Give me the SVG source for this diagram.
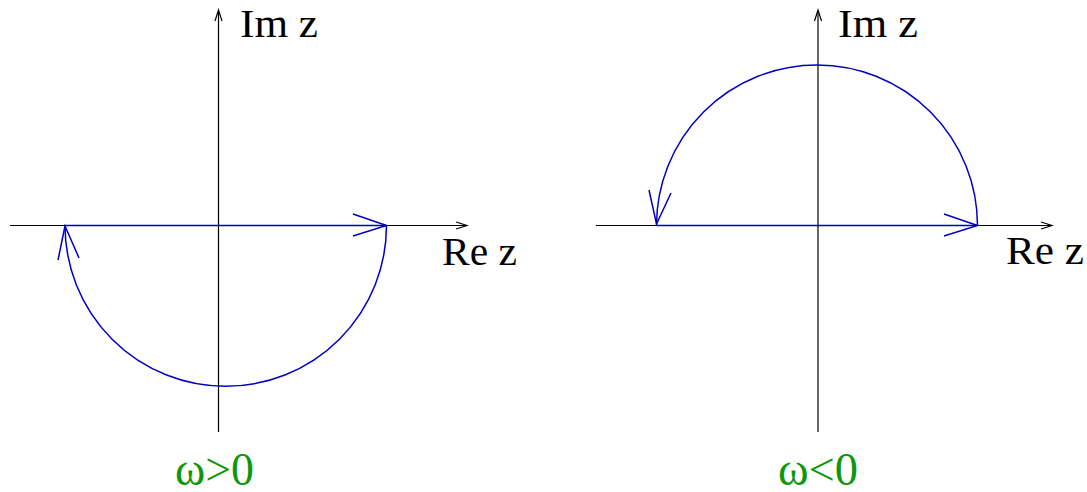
<svg xmlns="http://www.w3.org/2000/svg" width="1087" height="492" viewBox="0 0 1087 492">
<style>
.axis{stroke:#000;stroke-width:1.2;fill:none}
.path{stroke:#0000c0;stroke-width:1.5;fill:none}
.lbl{font-family:"Liberation Serif","DejaVu Serif",serif;font-size:41px;fill:#000}
.om{font-family:"Liberation Serif","DejaVu Serif",serif;font-size:46px;fill:#0e960e}
</style>
<rect width="1087" height="492" fill="#fff"/>
<g id="connectors">
<g id="left-axes">
<line class="axis" x1="10" y1="225.5" x2="466" y2="225.5"/>
<polyline class="axis" points="456,222 467,225.5 456,229"/>
<line class="axis" x1="218.5" y1="432" x2="218.5" y2="11"/>
<polyline class="axis" points="215,21 218.5,10 222,21"/>
</g>
<g id="left-contour">
<line class="path" x1="65" y1="225.5" x2="386" y2="225.5"/>
<polyline class="path" points="353,214 386.5,225.5 353,236"/>
<path class="path" d="M386.5,225.5 A160.75,160.75 0 1 1 65,225.5"/>
<polyline class="path" points="58,260 65,226 79,258"/>
</g>
<g id="right-axes">
<line class="axis" x1="596" y1="225.5" x2="1051" y2="225.5"/>
<polyline class="axis" points="1041,222 1052,225.5 1041,229"/>
<line class="axis" x1="818" y1="432" x2="818" y2="11"/>
<polyline class="axis" points="814.5,21 818,10 821.5,21"/>
</g>
<g id="right-contour">
<line class="path" x1="656.5" y1="225.5" x2="977" y2="225.5"/>
<polyline class="path" points="944,214 977.5,225.5 944,236"/>
<path class="path" d="M977.5,225.5 A160.5,160.5 0 1 0 656.5,225.5"/>
<polyline class="path" points="649,190 656.5,224 671,193"/>
</g>
</g>
<g id="labels-left">
<text class="lbl" x="240" y="37" textLength="78" lengthAdjust="spacingAndGlyphs">Im z</text>
<text class="lbl" x="442" y="265" textLength="75" lengthAdjust="spacingAndGlyphs">Re z</text>
<text class="om" x="175" y="485" textLength="79" lengthAdjust="spacingAndGlyphs">ω&gt;0</text>
</g>
<g id="labels-right">
<text class="lbl" x="838" y="37" textLength="80" lengthAdjust="spacingAndGlyphs">Im z</text>
<text class="lbl" x="1006" y="264" textLength="78" lengthAdjust="spacingAndGlyphs">Re z</text>
<text class="om" x="778" y="485" textLength="80" lengthAdjust="spacingAndGlyphs">ω&lt;0</text>
</g>
</svg>
